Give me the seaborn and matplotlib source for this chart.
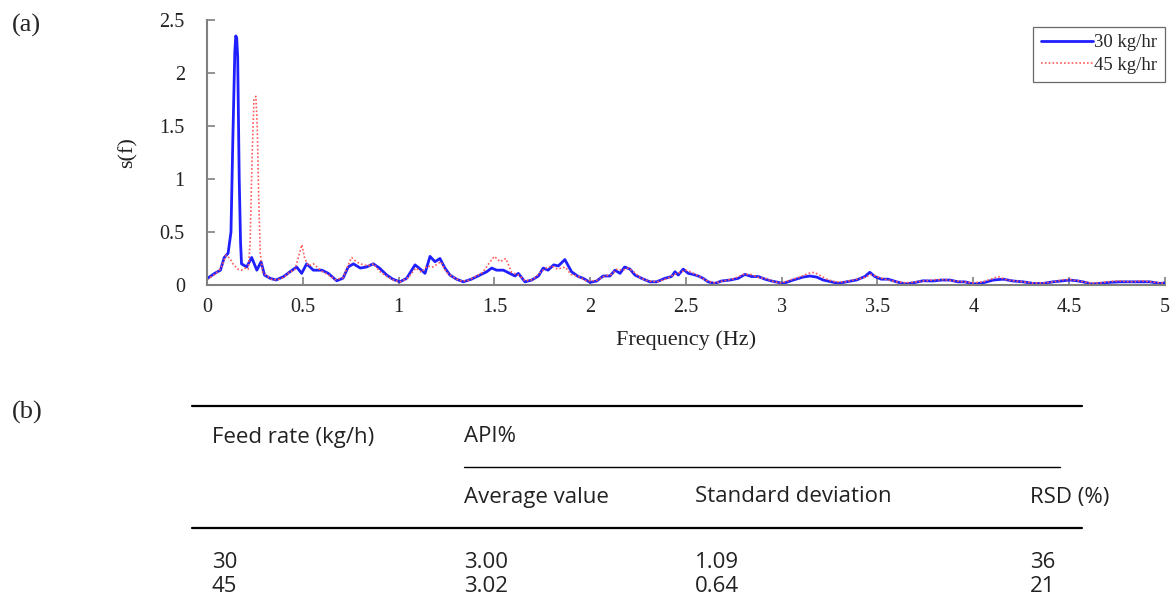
import matplotlib
matplotlib.use("Agg")
import matplotlib.pyplot as plt
from matplotlib.lines import Line2D
from matplotlib.ticker import FuncFormatter
import seaborn as sns
import pandas as pd

# Power spectra of API concentration at two feed rates
freq_30 = [0.00, 0.04, 0.07, 0.09, 0.11, 0.125, 0.135, 0.145, 0.150, 0.155, 0.160, 0.168,
           0.175, 0.18, 0.207, 0.233, 0.26, 0.282, 0.30, 0.33, 0.36, 0.40, 0.433, 0.468,
           0.494, 0.52, 0.555, 0.60, 0.633, 0.677, 0.71, 0.737, 0.764, 0.80, 0.833, 0.868,
           0.90, 0.938, 0.97, 1.007, 1.042, 1.086, 1.12, 1.138, 1.164, 1.19, 1.216, 1.242,
           1.268, 1.303, 1.338, 1.38, 1.425, 1.46, 1.486, 1.512, 1.547, 1.58, 1.608, 1.625,
           1.66, 1.695, 1.73, 1.755, 1.78, 1.81, 1.834, 1.868, 1.903, 1.938, 1.964, 2.0,
           2.034, 2.068, 2.103, 2.13, 2.156, 2.18, 2.208, 2.234, 2.269, 2.312, 2.347, 2.39,
           2.425, 2.443, 2.46, 2.486, 2.512, 2.538, 2.564, 2.59, 2.616, 2.651, 2.686, 2.73,
           2.773, 2.808, 2.843, 2.878, 2.913, 2.947, 3.008, 3.06, 3.112, 3.147, 3.182, 3.217,
           3.26, 3.295, 3.338, 3.39, 3.434, 3.46, 3.486, 3.52, 3.556, 3.60, 3.643, 3.686,
           3.738, 3.79, 3.834, 3.878, 3.921, 3.956, 4.0, 4.05, 4.104, 4.156, 4.208, 4.26,
           4.313, 4.365, 4.417, 4.47, 4.504, 4.54, 4.573, 4.617, 4.66, 4.713, 4.765, 4.817,
           4.87, 4.922, 4.974, 5.0]
s_30 = [0.06, 0.11, 0.14, 0.26, 0.30, 0.50, 1.40, 2.20, 2.35, 2.33, 2.15, 1.00,
        0.40, 0.20, 0.17, 0.26, 0.14, 0.22, 0.094, 0.063, 0.047, 0.08, 0.125, 0.17,
        0.11, 0.20, 0.14, 0.14, 0.11, 0.04, 0.065, 0.17, 0.20, 0.16, 0.17, 0.20,
        0.16, 0.094, 0.055, 0.03, 0.063, 0.19, 0.14, 0.11, 0.27, 0.22, 0.25, 0.16,
        0.094, 0.055, 0.03, 0.055, 0.094, 0.125, 0.16, 0.14, 0.14, 0.11, 0.085, 0.11,
        0.03, 0.047, 0.085, 0.16, 0.14, 0.19, 0.18, 0.24, 0.125, 0.08, 0.063, 0.025,
        0.038, 0.085, 0.085, 0.14, 0.11, 0.17, 0.15, 0.094, 0.063, 0.03, 0.03, 0.063,
        0.08, 0.125, 0.094, 0.15, 0.11, 0.10, 0.085, 0.063, 0.03, 0.015, 0.038, 0.047,
        0.063, 0.10, 0.08, 0.08, 0.055, 0.038, 0.015, 0.047, 0.075, 0.085, 0.075, 0.047,
        0.03, 0.015, 0.03, 0.047, 0.08, 0.12, 0.08, 0.055, 0.055, 0.03, 0.01, 0.02,
        0.04, 0.038, 0.047, 0.047, 0.03, 0.03, 0.01, 0.02, 0.047, 0.055, 0.038, 0.03,
        0.015, 0.015, 0.03, 0.04, 0.047, 0.04, 0.03, 0.01, 0.015, 0.025, 0.03, 0.03,
        0.03, 0.03, 0.015, 0.02]

freq_45 = [0.00, 0.04, 0.07, 0.10, 0.12, 0.135, 0.16, 0.18, 0.20, 0.215, 0.225, 0.235,
           0.245, 0.255, 0.262, 0.27, 0.278, 0.29, 0.31, 0.34, 0.37, 0.40, 0.43, 0.46,
           0.48, 0.495, 0.51, 0.53, 0.555, 0.60, 0.63, 0.67, 0.71, 0.74, 0.755, 0.78,
           0.80, 0.84, 0.87, 0.90, 0.94, 0.98, 1.01, 1.05, 1.09, 1.12, 1.15, 1.18,
           1.22, 1.25, 1.28, 1.32, 1.36, 1.40, 1.44, 1.47, 1.50, 1.53, 1.56, 1.59,
           1.63, 1.66, 1.70, 1.74, 1.77, 1.80, 1.83, 1.87, 1.90, 1.94, 1.98, 2.03,
           2.07, 2.11, 2.14, 2.17, 2.20, 2.23, 2.26, 2.30, 2.35, 2.40, 2.44, 2.47,
           2.50, 2.53, 2.57, 2.61, 2.65, 2.70, 2.75, 2.80, 2.84, 2.88, 2.92, 2.96,
           3.00, 3.05, 3.10, 3.14, 3.17, 3.20, 3.24, 3.28, 3.33, 3.38, 3.43, 3.47,
           3.51, 3.55, 3.60, 3.65, 3.70, 3.75, 3.80, 3.85, 3.90, 3.95, 4.00, 4.05,
           4.10, 4.13, 4.17, 4.21, 4.26, 4.31, 4.37, 4.42, 4.47, 4.51, 4.55, 4.60,
           4.65, 4.70, 4.76, 4.82, 4.88, 4.93, 4.98, 5.00]
s_45 = [0.05, 0.10, 0.15, 0.28, 0.25, 0.20, 0.15, 0.14, 0.16, 0.15, 0.40, 1.20,
        1.75, 1.78, 1.50, 0.80, 0.30, 0.12, 0.09, 0.05, 0.05, 0.07, 0.12, 0.15,
        0.28, 0.38, 0.25, 0.18, 0.20, 0.13, 0.10, 0.05, 0.07, 0.20, 0.26, 0.22,
        0.20, 0.18, 0.20, 0.13, 0.08, 0.04, 0.03, 0.07, 0.16, 0.12, 0.18, 0.17,
        0.22, 0.12, 0.08, 0.04, 0.04, 0.08, 0.12, 0.20, 0.27, 0.22, 0.25, 0.12,
        0.09, 0.04, 0.05, 0.12, 0.16, 0.18, 0.15, 0.17, 0.10, 0.08, 0.04, 0.04,
        0.08, 0.10, 0.15, 0.14, 0.16, 0.12, 0.07, 0.04, 0.03, 0.06, 0.10, 0.12,
        0.14, 0.12, 0.08, 0.04, 0.02, 0.04, 0.06, 0.10, 0.10, 0.07, 0.06, 0.03,
        0.02, 0.05, 0.08, 0.11, 0.12, 0.09, 0.05, 0.03, 0.03, 0.05, 0.07, 0.10,
        0.07, 0.05, 0.03, 0.02, 0.03, 0.04, 0.05, 0.05, 0.04, 0.03, 0.02, 0.03,
        0.06, 0.08, 0.05, 0.04, 0.03, 0.02, 0.02, 0.03, 0.05, 0.05, 0.04, 0.02,
        0.02, 0.03, 0.04, 0.03, 0.04, 0.03, 0.02, 0.02]

series_labels = ["30 kg/hr", "45 kg/hr"]
x_ticks = [0, 0.5, 1, 1.5, 2, 2.5, 3, 3.5, 4, 4.5, 5]
y_ticks = [0, 0.5, 1, 1.5, 2, 2.5]

# Table of API content statistics
table_header = ["Feed rate (kg/h)", "API%"]
table_subheader = ["Average value", "Standard deviation", "RSD (%)"]
feed_rates = ["30", "45"]
avg_values = ["3.00", "3.02"]
std_values = ["1.09", "0.64"]
rsd_values = ["36", "21"]

sns.set_style("ticks")
plt.rcParams["font.family"] = ["Liberation Serif", "DejaVu Serif"]
plt.rcParams["axes.unicode_minus"] = False

fig = plt.figure(figsize=(11.73, 6.14), dpi=100)
ax = fig.add_axes([0.1765, 0.5358, 0.8165, 0.4316])

df30 = pd.DataFrame({"f": freq_30, "s": s_30})
df45 = pd.DataFrame({"f": freq_45, "s": s_45})
sns.lineplot(data=df30, x="f", y="s", ax=ax, color="#1f1fff", lw=2.0,
             label=series_labels[0], sort=False)
sns.lineplot(data=df45, x="f", y="s", ax=ax, color="#ff5a5a", lw=1.2,
             linestyle=(0, (1, 1.3)), label=series_labels[1], sort=False)

ax.set_xlim(0, 5)
ax.set_ylim(0, 2.5)
ax.set_xticks(x_ticks)
ax.set_yticks(y_ticks)
fmt = FuncFormatter(lambda v, p: f"{v:g}")
ax.xaxis.set_major_formatter(fmt)
ax.yaxis.set_major_formatter(fmt)
ax.tick_params(axis="both", direction="in", length=6, width=1.2, color="#808080",
               labelsize=14.5, labelcolor="#222222")
ax.tick_params(axis="x", pad=9)
ax.tick_params(axis="y", pad=16)
for side in ["top", "right"]:
    ax.spines[side].set_visible(False)
for side in ["left", "bottom"]:
    ax.spines[side].set_color("#808080")
    ax.spines[side].set_linewidth(1.5)

ax.set_xlabel("Frequency (Hz)", fontsize=16, color="#222222", labelpad=10)
ax.set_ylabel("s(f)", fontsize=16, color="#222222", labelpad=16)

leg = ax.legend(loc="upper right", bbox_to_anchor=(1.0, 0.975), fontsize=13.5,
                frameon=True, fancybox=False, edgecolor="#444444",
                handlelength=2.8, handletextpad=0.05, borderpad=0.4,
                labelspacing=0.3, borderaxespad=0.0)
leg.get_frame().set_linewidth(0.9)

# Panel letters
fig.text(12 / 1173, 1 - 25 / 614, "(a)", fontsize=19, va="center", ha="left")
fig.text(12 / 1173, 1 - 412 / 614, "(b)", fontsize=19, va="center", ha="left")

# Table drawn as figure text and rules
sans = ["Open Sans", "DejaVu Sans"]
W, H = 1173.0, 614.0


def fx(px):
    return px / W


def fy(py):
    return 1 - py / H


def rule(x0, x1, y, lw):
    fig.add_artist(Line2D([fx(x0), fx(x1)], [fy(y), fy(y)], color="black", lw=lw,
                          transform=fig.transFigure))


rule(192, 1082, 406, 1.6)
rule(464, 1060, 467, 1.0)
rule(192, 1082, 528, 1.6)

tsize = 16
col_x = [212, 464, 695, 1030]
fig.text(fx(col_x[0]), fy(437), table_header[0], fontsize=tsize, family=sans,
         va="center", ha="left", color="#222222")
fig.text(fx(col_x[1]), fy(437), table_header[1], fontsize=tsize, family=sans,
         va="center", ha="left", color="#222222")
for label, x in zip(table_subheader, col_x[1:]):
    fig.text(fx(x), fy(497), label, fontsize=tsize, family=sans,
             va="center", ha="left", color="#222222")
for i, row_y in enumerate([563, 587]):
    for val, x in zip([feed_rates[i], avg_values[i], std_values[i], rsd_values[i]], col_x):
        fig.text(fx(x), fy(row_y), val, fontsize=tsize, family=sans,
                 va="center", ha="left", color="#222222")

fig.savefig("out.png", dpi=100)
